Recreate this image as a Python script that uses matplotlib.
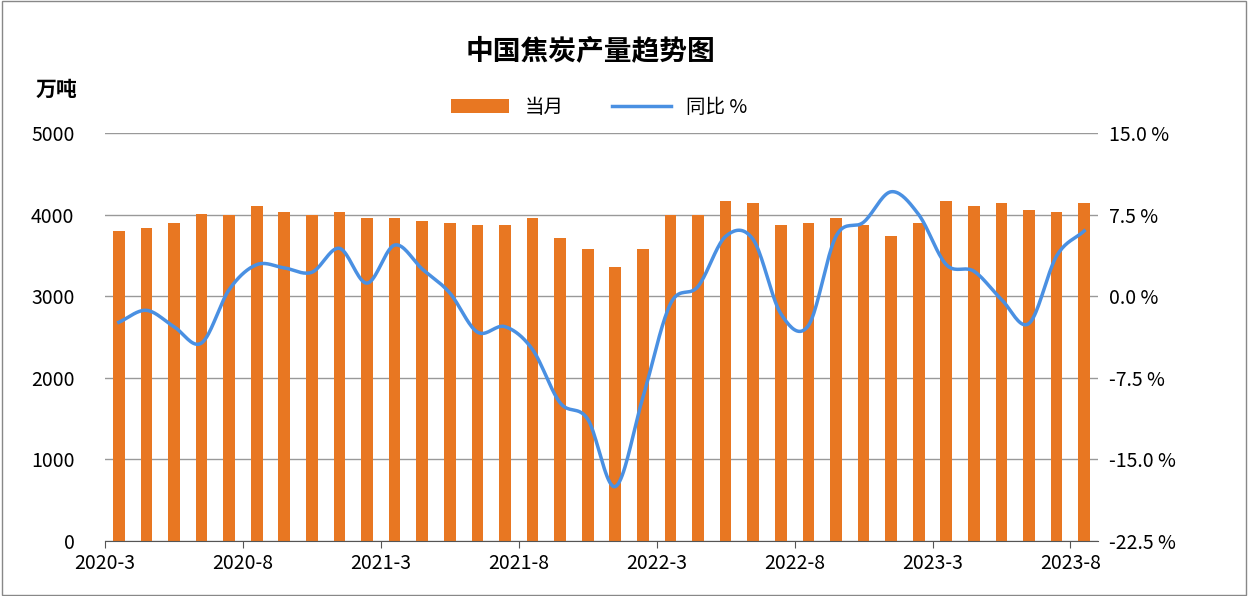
import numpy as np
import matplotlib
matplotlib.use("Agg")
import matplotlib.pyplot as plt
from matplotlib.patches import Rectangle

plt.rcParams['font.family'] = ['Noto Sans CJK SC', 'DejaVu Sans']

months = ([f"2020-{m}" for m in range(3, 13)] + [f"2021-{m}" for m in range(3, 13)] +
          [f"2022-{m}" for m in range(3, 13)] + [f"2023-{m}" for m in range(3, 9)])
output = [3800, 3835, 3900, 4010, 4000, 4110, 4030, 4000, 4030, 3960,
          3960, 3920, 3900, 3870, 3870, 3960, 3710, 3580, 3360, 3580,
          4000, 4000, 4170, 4140, 3870, 3900, 3960, 3870, 3740, 3900,
          4170, 4110, 4140, 4060, 4030, 4140]
yoy = [-2.4, -1.3, -2.8, -4.3, 0.6, 2.9, 2.6, 2.2, 4.4, 1.2,
       4.7, 2.5, 0.3, -3.3, -2.8, -4.9, -9.8, -11.3, -17.5, -9.3,
       -0.7, 0.9, 5.5, 5.2, -1.6, -2.7, 5.5, 6.8, 9.6, 7.5,
       2.9, 2.3, -0.3, -2.5, 3.7, 6.0]

def catmull(x, y, n=20):
    x = np.asarray(x, float); y = np.asarray(y, float)
    px = np.concatenate([[2*x[0]-x[1]], x, [2*x[-1]-x[-2]]])
    py = np.concatenate([[2*y[0]-y[1]], y, [2*y[-1]-y[-2]]])
    xs, ys = [], []
    t = np.linspace(0, 1, n, endpoint=False)
    for i in range(1, len(px)-2):
        for P, out in ((px, xs), (py, ys)):
            p0, p1, p2, p3 = P[i-1], P[i], P[i+1], P[i+2]
            out.extend(0.5*((2*p1) + (-p0+p2)*t + (2*p0-5*p1+4*p2-p3)*t**2 + (-p0+3*p1-3*p2+p3)*t**3))
    xs.append(x[-1]); ys.append(y[-1])
    return np.array(xs), np.array(ys)

fig = plt.figure(figsize=(12.48, 5.96), dpi=100)
fig.patches.append(Rectangle((0.002, 0.002), 0.996, 0.996, transform=fig.transFigure,
                             fill=False, edgecolor='#888888', lw=1))
ax = fig.add_axes([105/1248, 55/596, 993/1248, 408/596])
x = np.arange(len(months))
ax.bar(x, output, width=0.42, color='#E87722', label='当月', zorder=2)
ax.set_xlim(-0.5, len(months)-0.5)
ax.set_ylim(0, 5000)
ax.set_yticks(range(0, 5001, 1000))
ax.yaxis.grid(True, color='#999999', lw=1, zorder=0)
ax.set_xticks(np.arange(0, len(months), 5) - 0.5)
ax.set_xticklabels([months[i] for i in range(0, len(months), 5)])
ax.tick_params(axis='x', length=5, direction='out', labelsize=14, color='#555555')
ax.tick_params(axis='y', length=0, labelsize=14, pad=22)
for s in ['top', 'right', 'left']:
    ax.spines[s].set_visible(False)
ax.spines['bottom'].set_color('#555555')

ax2 = ax.twinx()
sx, sy = catmull(x, yoy)
ax2.plot(sx, sy, color='#4A90E2', lw=2.5, label='同比 %')
ax2.set_ylim(-22.5, 15)
ax2.set_yticks([15, 7.5, 0, -7.5, -15, -22.5])
ax2.set_yticklabels(['15.0 %', '7.5 %', '0.0 %', '-7.5 %', '-15.0 %', '-22.5 %'])
ax2.tick_params(axis='y', length=0, labelsize=14, pad=8)
for s in ax2.spines.values():
    s.set_visible(False)

fig.text(0.473, 0.915, '中国焦炭产量趋势图', ha='center', va='center', fontsize=20, fontweight='bold')
fig.text(0.045, 0.85, '万吨', ha='center', va='center', fontsize=15, fontweight='bold')
h1, l1 = ax.get_legend_handles_labels()
h2, l2 = ax2.get_legend_handles_labels()
fig.legend(h1 + h2, l1 + l2, loc='center', bbox_to_anchor=(0.48, 0.82), ncol=2,
           frameon=False, fontsize=14, handlelength=3, columnspacing=2.5)
fig.savefig('out.png', dpi=100, facecolor='white')
